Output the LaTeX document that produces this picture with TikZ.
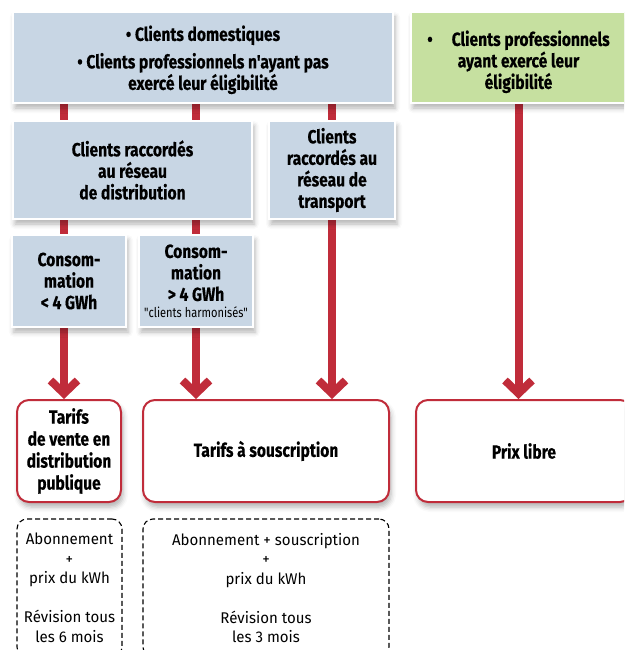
\documentclass[tikz,border=0pt]{standalone}
\usepackage{fontspec}
\newfontfamily\condfont[FakeStretch=0.82,BoldFeatures={FakeBold=0.4}]{Fira Sans}
\newfontfamily\plainfont[FakeStretch=0.97]{Fira Sans}
\usetikzlibrary{arrows.meta,shadows.blur}
\definecolor{clientblue}{RGB}{200,214,228}
\definecolor{eliggreen}{RGB}{198,224,160}
\definecolor{barred}{RGB}{192,44,58}
\pgfdeclarelayer{background}
\pgfsetlayers{background,main}

\tikzset{
  softshadow/.style={blur shadow={shadow xshift=2pt,shadow yshift=-5pt,shadow blur radius=5pt,shadow opacity=30}},
  client/.style={draw=white,line width=1.5pt,fill=clientblue,align=center,inner sep=2pt,
    font=\condfont\bfseries\fontsize{19}{21.5}\selectfont,softshadow},
  tarif/.style={draw=barred,line width=2pt,rounded corners=12pt,fill=white,align=center,inner sep=2pt,
    font=\condfont\bfseries\fontsize{19}{22}\selectfont,softshadow},
  detail/.style={draw=black,dash pattern=on 5pt off 3pt,line width=1.1pt,rounded corners=10pt,
    align=center,inner sep=2pt,font=\plainfont\fontsize{15.5}{19.5}\selectfont},
  bar/.style={draw=barred,line width=8pt,-{Straight Barb[length=13pt,width=27pt]}}
}

\begin{document}
\begin{tikzpicture}[x=1pt,y=-1pt]
    \useasboundingbox (0,0) rectangle (624,650);
    \clip (0,0) rectangle (624,650);

    % clients
    \node[client,minimum width=380pt,minimum height=91pt] (dom) at (203,57.5)
        {\rule{0pt}{20pt}\textbullet\ Clients domestiques\\[6pt]\textbullet\ Clients professionnels n'ayant pas\\exercé leur éligibilité};
    \node[client,fill=eliggreen,minimum width=215pt,minimum height=91pt] (elig) at (518.5,57.5)
        {\rule{0pt}{24pt}\textbullet\quad Clients professionnels\\ayant exercé leur\\éligibilité};
    \node[client,minimum width=239pt,minimum height=98pt] (distr) at (132.5,170)
        {Clients raccordés\\au réseau\\de distribution};
    \node[client,minimum width=126pt,minimum height=98pt] (transp) at (332,170)
        {Clients\\raccordés au\\réseau de\\transport};
    \node[client,minimum width=114pt,minimum height=92pt] (conso1) at (69,281)
        {Consom-\\mation\\< 4 GWh};
    \node[client,minimum width=114pt,minimum height=92pt] (conso2) at (196,281)
        {Consom-\\mation\\> 4 GWh\\[-5pt]{\condfont\mdseries\fontsize{13.5}{14}\selectfont "clients harmonisés"}};

    % tarifs
    \node[tarif,minimum width=104pt,minimum height=102pt] (tarifs) at (69,451)
        {Tarifs\\de vente en\\distribution\\publique};
    \node[tarif,minimum width=246pt,minimum height=102pt] (souscr) at (266,451)
        {Tarifs à souscription};
    \node[tarif,minimum width=216pt,minimum height=102pt] (libre) at (524,451)
        {Prix libre};

    \node[detail,minimum width=105pt,minimum height=138pt] (detail1) at (69.5,588)
        {Abonnement\\+\\prix du kWh\\[19.5pt]Révision tous\\les 6 mois};
    \node[detail,minimum width=246pt,minimum height=138pt] (detail2) at (266,588)
        {Abonnement + souscription\\+\\prix du kWh\\[19.5pt]Révision tous\\les 3 mois};

    \coordinate (c1) at ([xshift=-5pt]tarifs.north);
    \begin{pgfonlayer}{background}
        \draw[bar] (dom.south -| c1) -- (c1);
        \draw[bar] (dom.south -| conso2) -- (souscr.north -| conso2);
        \draw[bar] (dom.south -| transp) -- (souscr.north -| transp);
        \draw[bar] (elig.south) -- (libre.north -| elig.south);
    \end{pgfonlayer}
\end{tikzpicture}
\end{document}
